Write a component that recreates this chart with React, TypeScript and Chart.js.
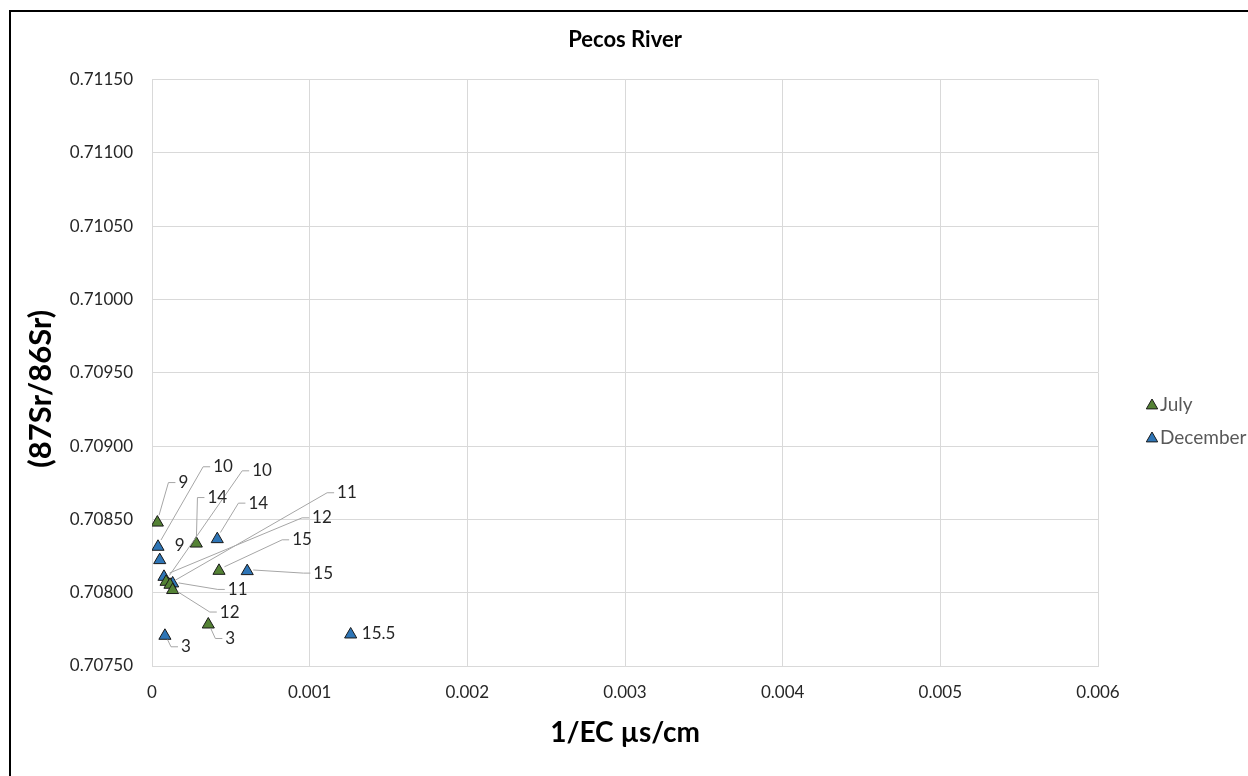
import React, { useEffect, useRef } from 'react';
import { Chart, registerables } from 'chart.js';

Chart.register(...registerables);

// ---- data ----
const chartTitle = 'Pecos River';
const xAxisTitle = '1/EC µs/cm';
const yAxisTitle = '(87Sr/86Sr)';
const seriesNames = ['July', 'December'];

const julyLabels = ['9', '10', '11', '12', '14', '15', '3'];
const julyX = [0.000034, 0.000089, 0.000114, 0.000131, 0.000281, 0.000425, 0.000357];
const julyY = [0.708478, 0.708074, 0.708054, 0.708018, 0.708335, 0.708149, 0.707783];

const decLabels = ['9', '10', '11', '12', '14', '15', '3', '15.5'];
const decX = [0.000049, 0.000038, 0.000131, 0.000076, 0.000414, 0.000604, 0.000082, 0.00126];
const decY = [0.708222, 0.708313, 0.708063, 0.708108, 0.708365, 0.708147, 0.707706, 0.707715];

const xTicks = [0, 0.001, 0.002, 0.003, 0.004, 0.005, 0.006];
const yTicks = [0.7075, 0.708, 0.7085, 0.709, 0.7095, 0.71, 0.7105, 0.711, 0.7115];

// label placement (pixel offsets from the marker, and whether a leader line is drawn)
const julyLabelOffsets: [number, number, boolean][] = [
  [26, -40, true], [96, -111, true], [177, -92, true], [57, 22, true],
  [21, -46, true], [83, -31, true], [22, 14, true],
];
const decLabelOffsets: [number, number, boolean][] = [
  [20, -15, false], [65, -80, true], [65, 6, true], [158, -59, true],
  [41, -36, true], [76, 2, true], [21, 11, true], [28, -1, false],
];

const GREEN = '#548235';
const BLUE = '#2E75B6';
const FONT = 'Lato, "Open Sans", sans-serif';

const toPoints = (xs: number[], ys: number[]) => xs.map((x, i) => ({ x, y: ys[i] }));

const frame = {
  id: 'frame',
  afterDraw(chart: any) {
    const ctx = chart.ctx;
    ctx.save();
    ctx.strokeStyle = '#000';
    ctx.lineWidth = 2;
    ctx.strokeRect(10, 11, 1400, 900);
    ctx.restore();
  },
};

const yTitlePlugin = {
  id: 'yTitle',
  afterDraw(chart: any) {
    const ctx = chart.ctx;
    const a = chart.chartArea;
    ctx.save();
    ctx.translate(41, (a.top + a.bottom) / 2 + 16);
    ctx.rotate(-Math.PI / 2);
    ctx.font = `bold 31px ${FONT}`;
    ctx.fillStyle = '#000';
    ctx.textAlign = 'center';
    ctx.textBaseline = 'middle';
    ctx.fillText(yAxisTitle, 0, 0);
    ctx.restore();
  },
};

const labelsPlugin = {
  id: 'pointLabels',
  afterDatasetsDraw(chart: any) {
    const ctx = chart.ctx;
    const sets = [
      { labels: julyLabels, offs: julyLabelOffsets, idx: 0 },
      { labels: decLabels, offs: decLabelOffsets, idx: 1 },
    ];
    ctx.save();
    ctx.font = `17px ${FONT}`;
    ctx.textBaseline = 'middle';
    ctx.textAlign = 'center';
    for (const s of sets) {
      const meta = chart.getDatasetMeta(s.idx);
      meta.data.forEach((el: any, i: number) => {
        const [dx, dy, leader] = s.offs[i];
        const lx = el.x + dx;
        const ly = el.y + dy;
        const w = ctx.measureText(s.labels[i]).width;
        if (leader) {
          const left = lx - w / 2 - 3;
          const stubEnd = left - 7;
          const vx = stubEnd - el.x;
          const vy = ly - (el.y - 1.5);
          const len = Math.hypot(vx, vy) || 1;
          const sx = el.x + (vx / len) * 6;
          const sy = el.y - 1.5 + (vy / len) * 6;
          ctx.strokeStyle = '#a6a6a6';
          ctx.lineWidth = 1;
          ctx.beginPath();
          ctx.moveTo(sx, sy);
          ctx.lineTo(stubEnd, ly);
          ctx.lineTo(left, ly);
          ctx.stroke();
        }
        ctx.fillStyle = '#262626';
        ctx.fillText(s.labels[i], lx, ly);
      });
    }
    ctx.restore();
  },
};

const legendPlugin = {
  id: 'customLegend',
  afterDraw(chart: any) {
    const ctx = chart.ctx;
    const ys = [405, 438];
    ctx.save();
    chart.data.datasets.forEach((ds: any, i: number) => {
      const cx = 1152;
      const cy = ys[i];
      const r = 6;
      ctx.beginPath();
      ctx.moveTo(cx, cy - r);
      ctx.lineTo(cx + r * 0.95, cy + r * 0.65);
      ctx.lineTo(cx - r * 0.95, cy + r * 0.65);
      ctx.closePath();
      ctx.fillStyle = ds.backgroundColor;
      ctx.fill();
      ctx.strokeStyle = '#1a1a1a';
      ctx.lineWidth = 1;
      ctx.stroke();
      ctx.font = `19px ${FONT}`;
      ctx.fillStyle = '#595959';
      ctx.textAlign = 'left';
      ctx.textBaseline = 'middle';
      ctx.fillText(ds.label, 1160, cy);
    });
    ctx.restore();
  },
};

export default function App() {
  const ref = useRef<HTMLCanvasElement>(null);
  useEffect(() => {
    if (!ref.current) return;
    const chart = new Chart(ref.current, {
      type: 'scatter',
      data: {
        datasets: [
          {
            label: seriesNames[0],
            data: toPoints(julyX, julyY),
            backgroundColor: GREEN,
            borderColor: '#1a1a1a',
            borderWidth: 1,
            pointStyle: 'triangle',
            pointRadius: 7,
          },
          {
            label: seriesNames[1],
            data: toPoints(decX, decY),
            backgroundColor: BLUE,
            borderColor: '#1a1a1a',
            borderWidth: 1,
            pointStyle: 'triangle',
            pointRadius: 7,
          },
        ],
      },
      options: {
        responsive: false,
        animation: false,
        events: [],
        layout: { padding: { left: 0, right: 150, top: 0, bottom: 0 } },
        plugins: {
          legend: { display: false },
          tooltip: { enabled: false },
          title: {
            display: true,
            text: chartTitle,
            fullSize: false,
            color: '#000',
            font: { family: FONT, size: 22, weight: 'bold' },
            padding: { top: 27, bottom: 26 },
          },
        },
        scales: {
          x: {
            type: 'linear',
            min: xTicks[0],
            max: xTicks[xTicks.length - 1],
            afterBuildTicks: (s: any) => { s.ticks = xTicks.map((v) => ({ value: v })); },
            afterFit: (s: any) => { s.height = 110; },
            ticks: {
              padding: 16,
              color: '#262626',
              font: { family: FONT, size: 17 },
              callback: (v: any) => (v === 0 ? '0' : String(Number(Number(v).toFixed(3)))),
            },
            grid: { color: '#d9d9d9', drawTicks: false },
            border: { color: '#d9d9d9' },
            title: {
              display: true,
              text: xAxisTitle,
              color: '#000',
              font: { family: FONT, size: 28, weight: 'bold' },
              padding: { top: 4, bottom: 26 },
            },
          },
          y: {
            type: 'linear',
            min: yTicks[0],
            max: yTicks[yTicks.length - 1],
            afterBuildTicks: (s: any) => { s.ticks = yTicks.map((v) => ({ value: v })); },
            afterFit: (s: any) => { s.width = 152; },
            ticks: {
              padding: 19,
              color: '#262626',
              font: { family: FONT, size: 17 },
              callback: (v: any) => Number(v).toFixed(5),
            },
            grid: { color: '#d9d9d9', drawTicks: false },
            border: { color: '#d9d9d9' },
          },
        },
      },
      plugins: [frame, yTitlePlugin, labelsPlugin, legendPlugin],
    } as any);
    return () => chart.destroy();
  }, []);
  return (
    <div style={{ position: 'fixed', left: 0, top: 0, width: 1248, height: 776, overflow: 'hidden', background: '#fff' }}>
      <canvas ref={ref} width={1248} height={776} style={{ width: 1248, height: 776, display: 'block' }} />
    </div>
  );
}
